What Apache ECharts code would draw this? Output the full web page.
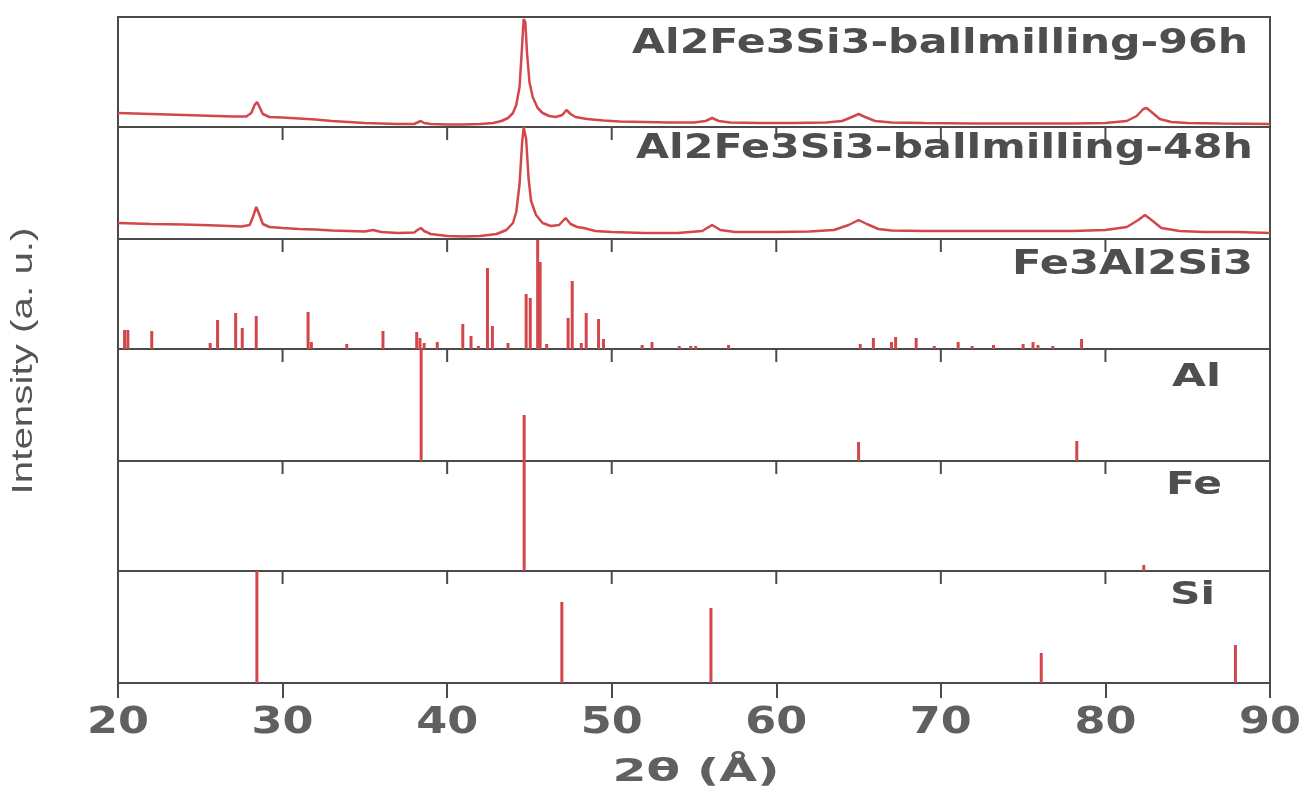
<!DOCTYPE html>
<html>
<head>
<meta charset="utf-8">
<script src="https://cdn.jsdelivr.net/npm/echarts@6/dist/echarts.min.js"></script>
<style>
html, body { margin: 0; padding: 0; background: #fff; }
#chart { width: 1314px; height: 796px; }
</style>
</head>
<body>
<div id="chart"></div>
<script>
// tick labels on the 2θ axis
const xTicks = [20, 30, 40, 50, 60, 70, 80, 90]

// panel names, top to bottom
const panelNames = ['Al2Fe3Si3-ballmilling-96h', 'Al2Fe3Si3-ballmilling-48h', 'Fe3Al2Si3', 'Al', 'Fe', 'Si']

// measured pattern, 96 h milling  [2θ, intensity]
const mill96 = [
  [20, 14], [21, 13.5], [22, 13], [23, 12.5], [24, 12], [25, 11.5], [26, 11], [27, 10.5], [27.8, 10.5],
  [28.1, 14], [28.3, 22], [28.45, 25], [28.6, 20], [28.8, 13], [29.2, 10], [30, 9.5], [31, 8.5], [32, 7.5],
  [33, 6], [34, 5], [35, 4], [36, 3.5], [37, 3], [38, 3], [38.2, 4.5], [38.4, 6], [38.6, 4], [39, 3],
  [40, 2.5], [41, 2.5], [42, 3], [42.8, 4], [43.3, 6], [43.7, 9], [44.0, 14], [44.2, 22], [44.4, 40],
  [44.55, 80], [44.65, 108], [44.75, 105], [44.85, 75], [45.0, 45], [45.2, 30], [45.5, 19], [45.8, 14],
  [46.2, 11], [46.6, 10], [47.0, 12], [47.25, 17], [47.5, 13], [47.8, 10], [48.5, 8], [49.5, 6.5],
  [50.5, 5.5], [52, 5], [53.5, 4.5], [55, 4.5], [55.7, 6], [56.1, 9], [56.5, 6], [57.2, 4.5], [59, 4],
  [61, 4], [63, 4.5], [64, 6], [64.6, 10], [65.0, 13], [65.4, 10], [66, 6], [67, 4.5], [69, 4], [72, 3.5],
  [75, 3.5], [78, 3.5], [80, 4], [81.3, 6], [81.9, 11], [82.3, 18], [82.5, 19], [82.8, 15], [83.3, 8],
  [84, 5], [85, 4], [87, 3.5], [90, 3]
]

// measured pattern, 48 h milling
const mill48 = [
  [20, 16], [21, 15.5], [22, 15], [24, 14.5], [26, 13.5], [27.5, 12.5], [28.0, 14], [28.2, 22], [28.4, 32],
  [28.6, 24], [28.8, 15], [29.2, 12], [30, 11], [31, 10], [32, 9.5], [33, 8.5], [34, 8], [35, 7.5],
  [35.5, 9], [36, 7], [37, 6], [38, 6.5], [38.2, 9], [38.4, 11], [38.6, 8], [39, 5], [40, 3], [41, 2.5],
  [42, 3], [43, 5], [43.6, 9], [44.0, 16], [44.2, 27], [44.4, 55], [44.55, 95], [44.65, 112], [44.8, 100],
  [44.95, 60], [45.1, 38], [45.4, 24], [45.8, 16], [46.3, 13], [46.8, 14], [47.2, 21], [47.5, 15],
  [47.9, 12], [48.3, 11], [49, 8], [50, 7], [52, 6], [54, 6], [55.5, 8], [56.1, 14], [56.6, 9], [57.5, 7],
  [60, 7], [62, 7.5], [63.5, 9], [64.4, 14], [65.0, 19], [65.5, 15], [66.2, 10], [67, 8.5], [69, 8],
  [72, 8], [75, 8], [78, 8], [80, 9], [81.3, 12], [82.0, 19], [82.4, 24], [82.8, 19], [83.4, 11],
  [84.5, 8], [86, 7], [88, 7], [90, 6]
]

// reference sticks
const fe3al2si3 = [
  [20.4, 19], [20.6, 19], [22.05, 18], [25.6, 6], [26.05, 29], [27.15, 36], [27.55, 21], [28.4, 33],
  [31.55, 37], [31.75, 7], [33.9, 5], [36.1, 18], [38.15, 17], [38.35, 11], [38.6, 6], [39.4, 7],
  [40.95, 25], [41.45, 13], [41.9, 3], [42.45, 81], [42.75, 23], [43.7, 6], [44.8, 55], [45.05, 51],
  [45.5, 109], [45.65, 87], [46.05, 5], [47.35, 31], [47.6, 68], [48.15, 6], [48.45, 36], [49.2, 30],
  [49.5, 10], [51.85, 4], [52.45, 7], [54.1, 3], [54.8, 3], [55.1, 3], [57.1, 4], [65.1, 5], [65.9, 11],
  [67.0, 7], [67.25, 12], [68.5, 11], [69.6, 3], [71.05, 7], [71.9, 3], [73.2, 4], [75.0, 5], [75.6, 7],
  [75.9, 4], [76.8, 3], [78.55, 10]
]
const alSticks = [[38.42, 112], [44.68, 46], [65.0, 19], [78.26, 20]]
const feSticks = [[44.68, 110], [82.33, 6]]
const siSticks = [[28.44, 112], [46.97, 81], [56.03, 75], [76.1, 30], [87.9, 38]]

const panelData = [mill96, mill48, fe3al2si3, alSticks, feSticks, siSticks]

const panelTop = [17, 127, 239, 349, 461, 571]
const panelH = [110, 112, 110, 112, 110, 112]
const red = '#d3474b'
const frame = '#4a4a4a'

const chart = echarts.init(document.getElementById('chart'))

const option = {
  animation: false,
  grid: panelTop.map((t, i) => ({
    left: 118, right: 44, top: t, height: panelH[i],
    show: true, borderColor: frame, borderWidth: 2
  })),
  xAxis: panelTop.map((t, i) => ({
    type: 'value', gridIndex: i, min: 20, max: 90, interval: 10,
    axisLine: {show: true, onZero: false, lineStyle: {color: frame, width: 2}},
    axisTick: {show: i === 5, inside: false, length: 15, lineStyle: {color: frame, width: 2}},
    axisLabel: {show: false},
    splitLine: {show: false}
  })),
  yAxis: panelH.map((h, i) => ({type: 'value', gridIndex: i, min: 0, max: h, show: false})),
  series: panelData.map((d, i) => i < 2
    ? {
        name: panelNames[i], type: 'line', xAxisIndex: i, yAxisIndex: i, data: d,
        showSymbol: false, lineStyle: {color: red, width: 2.5}
      }
    : {
        name: panelNames[i], type: 'bar', xAxisIndex: i, yAxisIndex: i, data: d,
        barWidth: 3, itemStyle: {color: red}
      })
}
chart.setOption(option)

const graphics = []

// short ticks hanging from the top edge of panels 2-6; x through each panel's own axis
const innerTicks = xTicks.slice(1, -1)
for (let i = 1; i < 6; i++) {
  innerTicks.forEach((v) => {
    const x = chart.convertToPixel({xAxisIndex: i}, v)
    graphics.push({
      type: 'line', z: 10,
      shape: {x1: x, y1: panelTop[i], x2: x, y2: panelTop[i] + 13},
      style: {stroke: frame, lineWidth: 2}
    })
  })
}

// the figure's lettering is wide, so texts are stretched to the measured widths
const ctx = document.createElement('canvas').getContext('2d')
function stretch(font, text, w) {
  ctx.font = font
  return w / ctx.measureText(text).width
}

const tickFont = 'bold 37px "DejaVu Sans"'
const tickScale = stretch(tickFont, '30', 62)
xTicks.forEach((v) => {
  graphics.push({
    type: 'text',
    x: chart.convertToPixel({xAxisIndex: 5}, v), y: 723,
    scaleX: tickScale,
    style: {text: String(v), font: tickFont, fill: '#606060', textAlign: 'center', textVerticalAlign: 'middle'}
  })
})

// panel names: right edge, centre y, width
const nameBoxes = [[1248, 44, 616], [1253, 149, 617], [1253, 265, 241], [1221, 378, 49], [1222, 486, 56], [1215, 596, 45]]
panelNames.forEach((name, i) => {
  const font = i < 3 ? 'bold 34px "DejaVu Sans"' : 'bold 32px "DejaVu Sans"'
  const [r, cy, w] = nameBoxes[i]
  graphics.push({
    type: 'text', x: r, y: cy, scaleX: stretch(font, name, w),
    style: {text: name, font: font, fill: '#4e4e4e', textAlign: 'right', textVerticalAlign: 'middle'}
  })
})

const xName = '2θ (Å)'
const xNameFont = 'bold 32px "DejaVu Sans"'
graphics.push({
  type: 'text', x: 696, y: 773, scaleX: stretch(xNameFont, xName, 167),
  style: {text: xName, font: xNameFont, fill: '#606060', textAlign: 'center', textVerticalAlign: 'middle'}
})

const yName = 'Intensity (a. u.)'
const yNameFont = '30px "Liberation Sans"'
graphics.push({
  type: 'text', x: 24, y: 361, rotation: Math.PI / 2, scaleX: stretch(yNameFont, yName, 267),
  style: {text: yName, font: yNameFont, fill: '#555', textAlign: 'center', textVerticalAlign: 'middle'}
})

chart.setOption({graphic: graphics})
</script>
</body>
</html>
